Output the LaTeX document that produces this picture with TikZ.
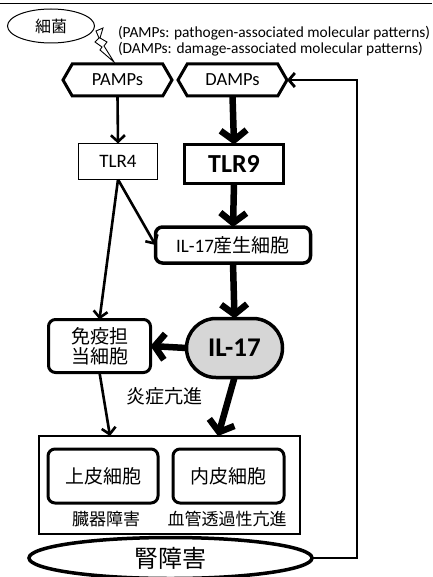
\documentclass[tikz,border=0pt]{standalone}
\usepackage{fontspec}
\setmainfont{Carlito}
\newfontfamily\jp{Noto Sans CJK JP}
\usetikzlibrary{arrows.meta,shapes.symbols,shapes.geometric,shapes.misc}
\begin{document}
\begin{tikzpicture}[x=1pt,y=-1pt,
  every node/.style={inner sep=0pt, outer sep=0pt, align=center},
  hexbox/.style={draw, line width=3pt, shape=signal, signal to=west and east,
    signal pointer angle=120, minimum width=109pt, minimum height=32pt,
    font=\fontsize{18.5}{20}\selectfont},
  thinbox/.style={draw, line width=1pt, minimum width=79pt, minimum height=36pt,
    font=\fontsize{19}{21}\selectfont},
  boldbox/.style={draw, line width=3.5pt, minimum width=99pt, minimum height=39pt,
    font=\bfseries\fontsize{26}{28}\selectfont},
  roundbox/.style={draw, line width=3pt, rounded corners=7pt,
    font=\jp\fontsize{19}{20}\selectfont},
  jlabel/.style={font=\jp\fontsize{17}{19}\selectfont},
  thinarrow/.style={line width=2.6pt, -{Straight Barb[length=6.5pt,width=14pt]}},
  thickarrow/.style={line width=6.5pt, -{Straight Barb[length=10pt,width=26pt]}},
]
\useasboundingbox (0,0) rectangle (432,577);
% cropped heading underline
\draw[line width=1.5pt] (0,3.5) -- (432,3.5);

% bacteria
\node[draw, line width=1pt, ellipse, minimum width=87pt, minimum height=34pt,
  font=\jp\fontsize{16}{18}\selectfont] (bact) at (51,26) {細菌};
\draw[line width=0.9pt, line join=miter] (96,31) -- (103,28) -- (100,38) -- (107,42) -- (104,46)
  -- (114,62) -- (100,50) -- (102,47) -- (95,42) -- (99,38) -- cycle;

% legend
\node[anchor=west, font=\fontsize{15.4}{17}\selectfont] (leg1) at (118,33)
  {(PAMPs: pathogen-associated molecular patterns)};
\node[anchor=west, font=\fontsize{15.4}{17}\selectfont] (leg2) at (118,49)
  {(DAMPs: damage-associated molecular patterns)};

% nodes
\node[hexbox] (pamps) at (117.5,80) {PAMPs};
\node[hexbox] (damps) at (232.5,80) {DAMPs};
\node[thinbox] (tlr4) at (118,161.5) {TLR4};
\node[boldbox] (tlr9) at (234,164) {TLR9};
\node[roundbox, line width=3.5pt, minimum width=155pt, minimum height=36pt] (prod) at (233,245)
  {{\fontspec{Carlito}IL-17}産生細胞};
\node[roundbox, minimum width=102pt, minimum height=53pt] (imm) at (99.5,346)
  {免疫担\\当細胞};
\node[draw, line width=3.5pt, rounded rectangle, fill=black!16, minimum width=96pt,
  minimum height=59pt, font=\bfseries\fontsize{27}{29}\selectfont] (il17) at (234.5,348) {IL-17};
\node[jlabel, font=\jp\fontsize{19}{21}\selectfont] (infl) at (164,396) {炎症亢進};

% organ container
\node[draw, line width=1.4pt, minimum width=261pt, minimum height=98pt] (organ) at (169.5,485) {};
\node[roundbox, minimum width=110pt, minimum height=54pt] (epi) at (103,476) {上皮細胞};
\node[roundbox, minimum width=111pt, minimum height=54pt] (endo) at (228.5,476) {内皮細胞};
\node[jlabel] (lab1) at (106,519) {臓器障害};
\node[jlabel] (lab2) at (227,519) {血管透過性亢進};

% kidney
\node[draw, line width=3.5pt, ellipse, minimum width=283pt, minimum height=41pt,
  font=\jp\fontsize{24}{26}\selectfont] (kid) at (170.5,558) {腎障害};

\coordinate (orgA) at (110,436);
\coordinate (orgB) at (218,436);

% arrows
\draw[thinarrow] (pamps.south) -- (tlr4.north);
\draw[thickarrow] (damps.south) -- (tlr9.north);
\draw[thickarrow] (tlr9.south) -- (prod.north);
\draw[thinarrow] (tlr4.south) -- (prod.west);
\draw[thinarrow] (tlr4.south) -- (imm.north);
\draw[thickarrow] (prod.south) -- (il17.north);
\draw[thickarrow] (il17.west) -- (imm.east);
\draw[thinarrow] (imm.south) -- (orgA);
\draw[thickarrow] (il17.south) -- (orgB);
\draw[line width=2.8pt, -{Straight Barb[length=6pt,width=14pt]}] (kid.east) -- ++(45,0) |- (damps.east);
\end{tikzpicture}
\end{document}
